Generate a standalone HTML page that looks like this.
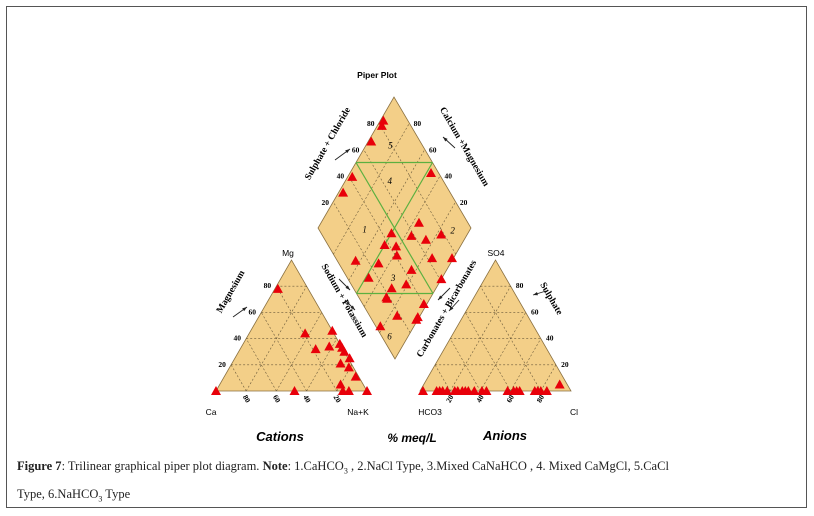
<!DOCTYPE html>
<html><head><meta charset="utf-8"><style>
body{margin:0;background:#fff;width:814px;height:516px;overflow:hidden;position:relative;font-family:"Liberation Sans",sans-serif}
#frame{position:absolute;left:6px;top:6px;width:801px;height:502px;border:1px solid #555;box-sizing:border-box}
#cap{position:absolute;left:17px;top:455px;font-family:"Liberation Serif",serif;font-size:12.5px;line-height:23px;color:#222;width:760px}
</style></head><body>
<div id="frame"></div>
<svg id="chart" width="814" height="516" style="position:absolute;left:0;top:0"></svg>
<div id="cap"><b>Figure 7</b>: Trilinear graphical piper plot diagram. <b>Note</b>: 1.CaHCO<sub style="font-size:8px">3</sub> , 2.NaCl Type, 3.Mixed CaNaHCO , 4. Mixed CaMgCl, 5.CaCl<br>Type, 6.NaHCO<sub style="font-size:8px">3</sub> Type</div>
<script>
// Cation triangle: Na+K %, Mg %
const catNa=[0,2,37,54,50,58,64,67,70,76,72,79,87,80,84,88,100,52];
const catMg=[0,78,44,46,32,34,36,33,30,25,21,18,11,5,0,0,0,0];
// Anion triangle: Cl %, SO4 %
const anCl=[2,11,13,15,18,23,25,28,30,32,36,41,44,58,62,64,66,76,78,80,84,90];
const anSO4=[0,0,0,0,0,0,0,0,0,0,0,0,0,0,0,0,0,0,0,0,0,5];
// Diamond: Ca+Mg %, SO4+Cl %
const dCa=[98,97,98,97,97,47,36,36,25,17,50,50,42,38,63,47,23,1,14,48,21,0,29,29,28,2,15,1,1,22];
const dSO4=[84,81,68,42,30,95,68,58,66,78,46,37,44,41,12,26,45,76,63,14,36,61,25,18,18,40,18,29,31,3];
const ticks=[20,40,60,80];

const svg=document.getElementById('chart');
const NS='http://www.w3.org/2000/svg';
function mk(t,a,p){const e=document.createElementNS(NS,t);for(const k in a)e.setAttribute(k,a[k]);(p||svg).appendChild(e);return e;}
const FILL='#f3cf88',W=151,H=131;
function catXY(na,mg){return [216+(na+mg/2)/100*W,391-mg/100*H];}
function anXY(cl,so){return [420+(cl+so/2)/100*W,391-so/100*H];}
const DB=[395,359],DL=[318,228],DR=[471,228];
function dXY(c,s){return [DB[0]+c/100*(DL[0]-DB[0])+s/100*(DR[0]-DB[0]),DB[1]+c/100*(DL[1]-DB[1])+s/100*(DR[1]-DB[1])];}
function tri(x,y){return `${x},${y-5} ${x-5},${y+4} ${x+5},${y+4}`;}
function line(a,b,st,name){const l=mk('line',{x1:a[0],y1:a[1],x2:b[0],y2:b[1],stroke:st.c,'stroke-width':st.w,'stroke-dasharray':st.d||''});

return l;}
function txt(x,y,s,o){const t=mk('text',Object.assign({x:x,y:y,'font-size':7.5,'font-family':'"Liberation Serif",serif','font-weight':'bold','text-anchor':'middle'},o||{}));t.textContent=s;return t;}
const dash={c:'#6b5a3a',w:0.6,d:'2,2'};

function drawTri(f,name){const p=[f(0,0),f(100,0),f(0,100)];
const g=mk('polygon',{points:p.map(q=>q.join(',')).join(' '),fill:FILL,stroke:'#8a7040','stroke-width':0.8});


ticks.forEach(t=>{line(f(0,t),f(100-t,t),dash,name+'-grid');line(f(t,0),f(t,100-t),dash,name+'-grid');line(f(t,0),f(0,t),dash,name+'-grid');});}
drawTri(catXY,'cation-triangle');
drawTri(anXY,'anion-triangle');
const dp=[dXY(0,0),dXY(100,0),dXY(100,100),dXY(0,100)];
const dg=mk('polygon',{points:dp.map(q=>q.join(',')).join(' '),fill:FILL,stroke:'#8a7040','stroke-width':0.8});


ticks.forEach(t=>{line(dXY(t,0),dXY(t,100),dash,'diamond-grid');line(dXY(0,t),dXY(100,t),dash,'diamond-grid');});
const gr={c:'#5cb040',w:1.2};
line(dXY(100,50),dXY(50,100),gr,'zone-line');line(dXY(50,0),dXY(0,50),gr,'zone-line');
line(dXY(100,50),dXY(0,50),gr,'zone-line');line(dXY(50,0),dXY(50,100),gr,'zone-line');
[['1',69,30],['2',11,87],['3',32,30],['4',71,65],['5',84,79],['6',12,5]].forEach(z=>{const p=dXY(z[1],z[2]);const t=txt(p[0],p[1]+3,z[0],{'font-size':9,'font-style':'italic','font-weight':'normal'});});
ticks.forEach(t=>{let p=catXY(0,t);txt(p[0]-9,p[1]+2,t);
p=catXY(t,0);txt(p[0],p[1]+10,100-t,{transform:`rotate(60 ${p[0]} ${p[1]+8})`});
p=anXY(100-t,t);txt(p[0]+9,p[1]+2,t);
p=anXY(t,0);txt(p[0],p[1]+10,t,{transform:`rotate(-60 ${p[0]} ${p[1]+8})`});
p=dXY(100,t);txt(p[0]-8,p[1]+3,t);
p=dXY(t,100);txt(p[0]+8,p[1]+3,t);});
function marks(A,B,f,name){A.forEach((v,i)=>{const p=f(v,B[i]);const m=mk('polygon',{points:tri(p[0],p[1]),fill:'#e8000a'});

});}
marks(catNa,catMg,catXY,'cation-sample');
marks(anCl,anSO4,anXY,'anion-sample');
marks(dCa,dSO4,dXY,'diamond-sample');
const L=(x,y,s,o,n)=>{const t=txt(x,y,s,Object.assign({'font-family':'"Liberation Sans",sans-serif','font-size':8.5,'font-weight':'normal'},o||{}));};
L(377,78,'Piper Plot',{'font-weight':'bold'},'chart-title');
L(288,256,'Mg',{},'mg-label');L(211,415,'Ca',{},'ca-label');L(358,415,'Na+K',{},'nak-label');
L(496,256,'SO4',{},'so4-label');L(430,415,'HCO3',{},'hco3-label');L(574,415,'Cl',{},'cl-label');
L(280,441,'Cations',{'font-size':13,'font-weight':'bold','font-style':'italic'},'cations-label');
L(412,442,'% meq/L',{'font-size':12,'font-weight':'bold','font-style':'italic'},'units-label');
L(505,440,'Anions',{'font-size':13,'font-weight':'bold','font-style':'italic'},'anions-label');
const R=(x,y,a,s,n)=>{const t=txt(x,y,s,{transform:`rotate(${a} ${x} ${y})`,'font-size':9.5});};
R(330,145,-60,'Sulphate + Chloride','so4cl-axis-title');
R(462,148,60,'Calcium +Magnesium','camg-axis-title');
R(233,293,-60,'Magnesium','mg-axis-title');
R(342,302,60,'Sodium + Potassium','nak-axis-title');
R(449,310,-60,'Carbonates + Bicarbonates','hco3-axis-title');
R(549,300,60,'Sulphate','so4-axis-title');
// arrows
function arr(x1,y1,x2,y2,n){const l=line([x1,y1],[x2,y2],{c:'#222',w:0.9},n);const a=Math.atan2(y2-y1,x2-x1);
const h=mk('polygon',{points:`${x2},${y2} ${x2-5*Math.cos(a-0.35)},${y2-5*Math.sin(a-0.35)} ${x2-5*Math.cos(a+0.35)},${y2-5*Math.sin(a+0.35)}`,fill:'#222'});

}
arr(335,160,350,149,'so4cl-arrow');arr(455,148,443,137,'camg-arrow');
arr(233,317,247,307,'mg-arrow');arr(339,279,350,290,'nak-arrow');arr(345,300,355,310,'nak-arrow');
arr(450,288,438,300,'hco3-arrow');arr(459,300,449,311,'hco3-arrow');arr(546,291,533,295,'so4-arrow');
</script>
</body></html>
